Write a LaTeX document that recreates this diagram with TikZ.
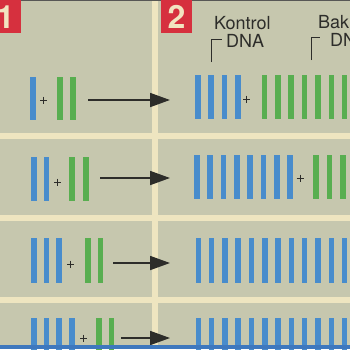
\documentclass[tikz,border=0pt]{standalone}
\usepackage{fontspec}
\setmainfont{TeX Gyre Heros}
\usetikzlibrary{arrows.meta}
\definecolor{bgc}{RGB}{198,199,174}
\definecolor{creamc}{RGB}{238,229,192}
\definecolor{redc}{RGB}{214,48,62}
\definecolor{digitc}{RGB}{242,228,192}
\definecolor{bluec}{RGB}{72,140,204}
\definecolor{greenc}{RGB}{88,174,80}
\definecolor{linec}{RGB}{62,120,190}
\definecolor{inkc}{RGB}{45,45,42}
\tikzset{
  bluebar/.style={fill=bluec},
  greenbar/.style={fill=greenc},
  arr/.style={draw=inkc, line width=1.8pt, -{Triangle[length=20pt,width=14pt]}},
  pl/.style={draw=inkc, line width=0.9pt},
  lbl/.style={inner sep=0pt, text=inkc, font=\fontsize{18}{20}\selectfont},
  digit/.style={inner sep=0pt, text=digitc, font=\fontsize{32}{32}\selectfont\bfseries},
  brk/.style={draw=inkc, line width=0.9pt},
}
\newcommand\barB[3]{\fill[bluebar] (#1,#2) rectangle ++(5.5,#3);}
\newcommand\barG[3]{\fill[greenbar] (#1,#2) rectangle ++(5.5,#3);}
\newcommand\plusat[2]{\draw[pl] (#1-3.5,#2) -- (#1+3.5,#2) (#1,#2-3.5) -- (#1,#2+3.5);}
\begin{document}
\begin{tikzpicture}[x=1pt,y=-1pt]
\useasboundingbox (0,0) rectangle (350,349);
\clip (0,0) rectangle (350,349);
\fill[bgc] (0,0) rectangle (350,349);
% cream grid lines
\fill[creamc] (152,0) rectangle (158,349);
\fill[creamc] (0,133) rectangle (350,138.5);
\fill[creamc] (0,215) rectangle (350,220.5);
\fill[creamc] (0,297) rectangle (350,302.5);
% top dark rule
\fill[inkc!80] (0,0) rectangle (350,1.3);
% number boxes
\fill[redc] (-10,0) rectangle (21,33);
\node[digit] (n1) at (5.5,17) {1};
\fill[redc] (161,0) rectangle (192,33);
\node[digit] (n2) at (176.5,17) {2};
% labels
\node[lbl, anchor=base west] (k1) at (214,29) {Kontrol};
\node[lbl, anchor=base west] (k2) at (226,47) {DNA};
\draw[brk] (211,62) |- (222,39.5);
\node[lbl, anchor=base west] (b1) at (318,28) {Bak};
\node[lbl, anchor=base west] (b2) at (330,46) {DN};
\draw[brk] (311,60) |- (320,37.5);
% ---- left panel ----
% row 1
\barB{30}{77}{43}
\plusat{43.5}{100}
\barG{57}{77}{43}\barG{70}{77}{43}
% row 2
\barB{31}{157}{44}\barB{43.5}{157}{44}
\plusat{57.5}{182}
\barG{69}{157}{44}\barG{83}{157}{44}
% row 3
\barB{31}{238}{45}\barB{43.5}{238}{45}\barB{56}{238}{45}
\plusat{70.5}{264}
\barG{85}{238}{45}\barG{97.5}{238}{45}
% row 4
\barB{31}{318}{40}\barB{43.5}{318}{40}\barB{56}{318}{40}\barB{69}{318}{40}
\plusat{83.5}{338}
\barG{96}{318}{40}\barG{108.5}{318}{40}
% arrows
\coordinate (a1s) at (88,100);  \coordinate (a1e) at (170,100);
\coordinate (a2s) at (100,178); \coordinate (a2e) at (170,178);
\coordinate (a3s) at (113,263); \coordinate (a3e) at (170,263);
\coordinate (a4s) at (121,338); \coordinate (a4e) at (170,338);
\draw[arr] (a1s) -- (a1e);
\draw[arr] (a2s) -- (a2e);
\draw[arr] (a3s) -- (a3e);
\draw[arr] (a4s) -- (a4e);
% ---- right panel ----
% row 1
\foreach \k in {0,...,3}{\barB{195+13.35*\k}{75}{44}}
\plusat{246.5}{99}
\foreach \k in {5,...,11}{\barG{195+13.35*\k}{75}{44}}
% row 2
\foreach \k in {0,...,7}{\barB{194+13.35*\k}{155}{44}}
\plusat{300}{178}
\foreach \k in {0,...,2}{\barG{313+13.5*\k}{155}{44}}
% row 3
\foreach \k in {0,...,11}{\barB{195.5+13.3*\k}{238}{45}}
% row 4
\foreach \k in {0,...,11}{\barB{195.5+13.3*\k}{318}{40}}
% bottom blue rule
\fill[linec] (0,345) rectangle (350,349);
\end{tikzpicture}
\end{document}
